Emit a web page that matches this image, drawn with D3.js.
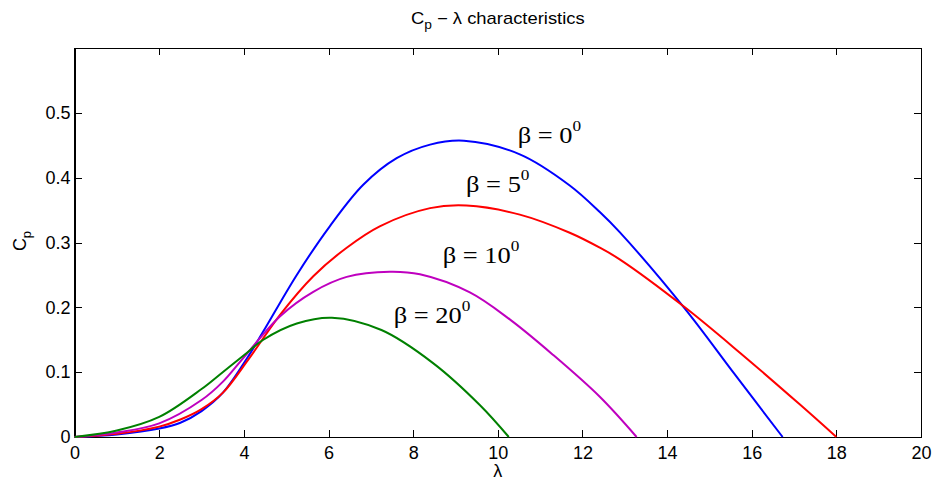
<!DOCTYPE html>
<html>
<head>
<meta charset="utf-8">
<script src="https://cdn.jsdelivr.net/npm/d3@7"></script>
<style>
  html, body { margin: 0; padding: 0; background: #fff; }
  svg { display: block; }
  .axis path, .axis line { stroke: #000; stroke-width: 1; shape-rendering: crispEdges; }
  .axis text { font-family: "Liberation Sans", Arial, sans-serif; font-size: 18px; fill: #000; }
</style>
</head>
<body>
<svg id="chart" width="934" height="480"></svg>
<script>
// Power coefficient Cp versus tip-speed ratio λ for four pitch angles β (degrees)
const betas = [0, 5, 10, 20];
const colors = ["#0000ff", "#ff0000", "#bf00bf", "#008000"];

const lambda0 = [0, 1, 2, 2.5, 3, 3.5, 4.07, 4.46, 5.25, 6.03, 6.82, 7.61, 8.4, 9.2, 10.52, 11.7, 12.41, 12.88, 14.42, 15.56, 16.73];
const cp0     = [0, 0.004, 0.013, 0.022, 0.040, 0.068, 0.121, 0.163, 0.250, 0.325, 0.389, 0.430, 0.451, 0.457, 0.436, 0.388, 0.347, 0.316, 0.198, 0.100, 0];

const lambda5 = [0, 1, 2, 2.5, 3, 3.5, 4.1, 4.85, 5.64, 6.43, 7.21, 8.4, 9.26, 10.52, 11.7, 12.41, 12.88, 14.42, 15.72, 17.14, 18];
const cp5     = [0, 0.005, 0.016, 0.027, 0.043, 0.068, 0.119, 0.188, 0.248, 0.292, 0.325, 0.353, 0.357, 0.343, 0.315, 0.292, 0.274, 0.200, 0.130, 0.050, 0];

const lambda10 = [0, 1, 2, 3, 3.5, 3.95, 4.85, 5.64, 6.43, 7.45, 8.16, 9.34, 10.29, 11.3, 12.41, 13.28];
const cp10     = [0, 0.007, 0.021, 0.057, 0.085, 0.119, 0.186, 0.224, 0.247, 0.255, 0.251, 0.223, 0.181, 0.127, 0.062, 0];

const lambda20 = [0, 1, 2, 3, 3.5, 4.0, 4.46, 5.25, 6.08, 7.25, 8.47, 9.58, 10.26];
const cp20     = [0, 0.010, 0.031, 0.074, 0.100, 0.126, 0.150, 0.175, 0.184, 0.165, 0.114, 0.049, 0];

const xTicks = [0, 2, 4, 6, 8, 10, 12, 14, 16, 18, 20];
const yTicks = [0, 0.1, 0.2, 0.3, 0.4, 0.5];

const seriesLambda = [lambda0, lambda5, lambda10, lambda20];
const seriesCp = [cp0, cp5, cp10, cp20];

// Curve labels, anchored in data coordinates (λ, Cp)
const labelAt = [[10.47, 0.454], [9.25, 0.378], [8.70, 0.2685], [7.54, 0.176]];

const svg = d3.select("#chart");
const plotLeft = 74.6, plotRight = 921, plotTop = 48, plotBottom = 437;

const x = d3.scaleLinear().domain([0, 20]).range([plotLeft, plotRight]);
const y = d3.scaleLinear().domain([0, 0.6]).range([plotBottom, plotTop]);

// Axes box with inward ticks on all four sides
svg.append("g").attr("class", "axis")
  .attr("transform", `translate(0,${plotBottom})`)
  .call(d3.axisBottom(x).tickValues(xTicks).tickFormat(d3.format("d"))
        .tickSize(-7).tickPadding(9).tickSizeOuter(0));
svg.append("g").attr("class", "axis")
  .attr("transform", `translate(0,${plotTop})`)
  .call(d3.axisTop(x).tickValues(xTicks).tickFormat("")
        .tickSize(-7).tickSizeOuter(0));
svg.append("g").attr("class", "axis")
  .attr("transform", `translate(${plotLeft},0)`)
  .call(d3.axisLeft(y).tickValues(yTicks).tickFormat(d => d === 0 ? "0" : d3.format(".1f")(d))
        .tickSize(-7).tickPadding(4).tickSizeOuter(0));
svg.append("g").attr("class", "axis")
  .attr("transform", `translate(${plotRight},0)`)
  .call(d3.axisRight(y).tickValues(yTicks).tickFormat("")
        .tickSize(-7).tickSizeOuter(0));

// Frame
svg.append("rect")
  .attr("x", plotLeft).attr("y", plotTop)
  .attr("width", plotRight - plotLeft).attr("height", plotBottom - plotTop)
  .attr("fill", "none").attr("stroke", "#000").attr("stroke-width", 1)
  .attr("shape-rendering", "crispEdges");

// Curves
const line = d3.line()
  .x(d => x(d[0]))
  .y(d => y(d[1]))
  .curve(d3.curveCatmullRom.alpha(0.5));

betas.forEach((b, i) => {
  const pts = seriesLambda[i].map((l, k) => [l, seriesCp[i][k]]);
  svg.append("path")
    .datum(pts)
    .attr("fill", "none")
    .attr("stroke", colors[i])
    .attr("stroke-width", 2)
    .attr("stroke-linejoin", "round")
    .attr("d", line);
});

// β labels with superscript; the serif face is drawn slightly widened
betas.forEach((b, i) => {
  const t = svg.append("text")
    .attr("transform", `translate(${x(labelAt[i][0])},${y(labelAt[i][1])}) scale(1.15,1)`)
    .attr("font-family", "'Liberation Serif', 'Times New Roman', serif")
    .attr("font-size", 23)
    .attr("fill", "#000");
  t.append("tspan").text(`β = ${b}`);
  t.append("tspan").attr("dy", -12).attr("font-size", 15).text("0");
});

// Title
const title = svg.append("text")
  .attr("transform", `translate(${(plotLeft + plotRight) / 2},24) scale(1.15,1)`)
  .attr("text-anchor", "middle")
  .attr("font-family", "'Liberation Sans', Arial, sans-serif")
  .attr("font-size", 16)
  .attr("fill", "#000");
title.append("tspan").text("C");
title.append("tspan").attr("dy", 5).attr("font-size", 12).text("p");
title.append("tspan").attr("dy", -5).text(" − λ characteristics");

// Axis labels
svg.append("text")
  .attr("x", (plotLeft + plotRight) / 2)
  .attr("y", 477)
  .attr("text-anchor", "middle")
  .attr("font-family", "'Liberation Sans', Arial, sans-serif")
  .attr("font-size", 18)
  .text("λ");

const ylab = svg.append("text")
  .attr("transform", "translate(26,241) rotate(-90)")
  .attr("text-anchor", "middle")
  .attr("font-family", "'Liberation Sans', Arial, sans-serif")
  .attr("font-size", 18)
  .attr("fill", "#000");
ylab.append("tspan").text("C");
ylab.append("tspan").attr("dy", 5).attr("font-size", 13).text("p");
</script>
</body>
</html>
